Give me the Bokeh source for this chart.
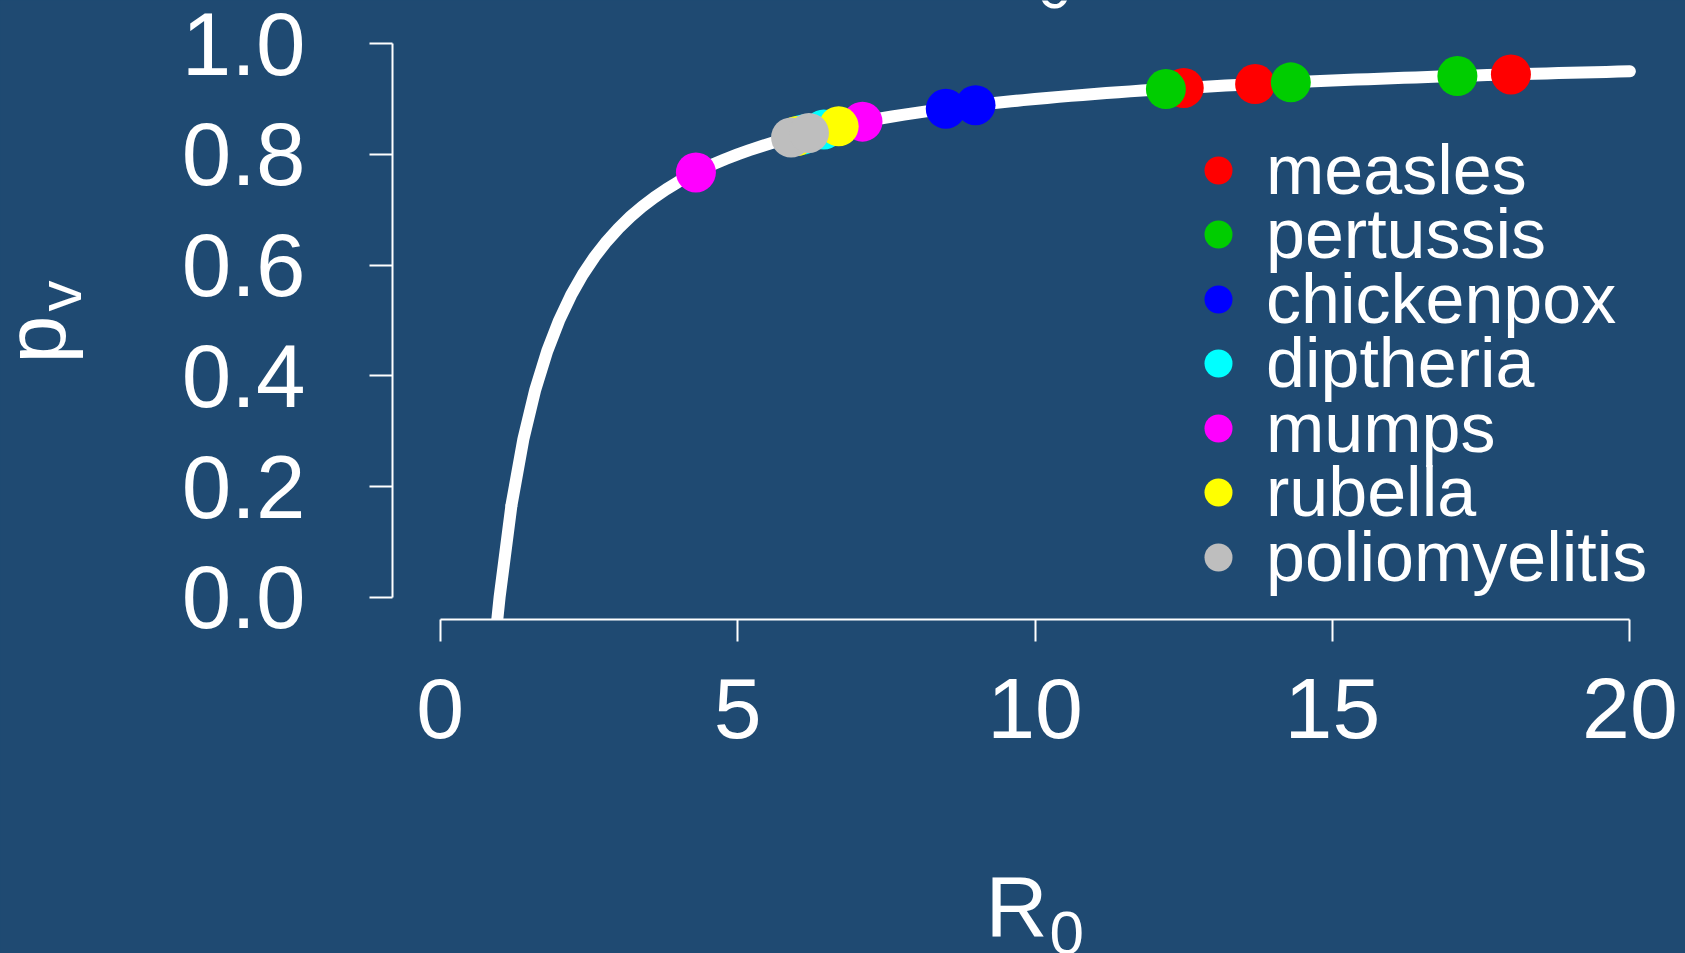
import numpy as np
from bokeh.plotting import figure
from bokeh.models import (Range1d, FixedTicker, PrintfTickFormatter, Legend,
                          LegendItem, Label, LinearAxis)
from bokeh.embed import file_html
from bokeh.resources import INLINE

# ---------------- data ----------------
diseases = ["measles", "pertussis", "chickenpox", "diptheria",
            "mumps", "rubella", "poliomyelitis"]
colors = ["#FF0000", "#00CD00", "#0000FF", "#00FFFF",
          "#FF00FF", "#FFFF00", "#BEBEBE"]
r0_measles = [12.5, 13.7, 18.0]
r0_pertussis = [12.2, 14.3, 17.1]
r0_chickenpox = [8.5, 9.0]
r0_diptheria = [6.1, 6.45]
r0_mumps = [4.3, 7.1]
r0_rubella = [6.0, 6.7]
r0_poliomyelitis = [5.9, 6.2]
r0_values = [r0_measles, r0_pertussis, r0_chickenpox, r0_diptheria,
             r0_mumps, r0_rubella, r0_poliomyelitis]

x_ticks = [0, 5, 10, 15, 20]
y_ticks = [0.0, 0.2, 0.4, 0.6, 0.8, 1.0]
x_lim = (-0.8, 20.8)     # plot region (R style, 4% padding)
y_lim = (-0.04, 1.04)

# theoretical threshold curve p_v = 1 - 1/R0, sampled every 0.2
r0_curve = np.linspace(0.2, 20, 100)
pv_curve = 1 - 1 / r0_curve

# ---------------- layout / style ----------------
BG = "#1F4A72"
FONT = "Liberation Sans"
W, H = 1685, 953
RL, RR, RT, RB = 392, 1677, 21, 619   # plot region in canvas px

ppx = (RR - RL) / (x_lim[1] - x_lim[0])
ppy = (RB - RT) / (y_lim[1] - y_lim[0])
x_range = Range1d(x_lim[0] - RL / ppx, x_lim[1] + (W - RR) / ppx)
y_range = Range1d(y_lim[0] - (H - RB) / ppy, y_lim[1] + RT / ppy)

p = figure(width=W, height=H, output_backend="svg", toolbar_location=None,
           x_range=x_range, y_range=y_range,
           x_axis_location=None, y_axis_location=None,
           min_border=0, min_border_left=0, min_border_right=0,
           min_border_top=0, min_border_bottom=0,
           background_fill_color=BG, border_fill_color=BG,
           outline_line_color=None)
p.styles = {"background-color": BG}
p.grid.visible = False

xaxis = LinearAxis(fixed_location=y_lim[0])
yaxis = LinearAxis(fixed_location=x_lim[0])
p.add_layout(xaxis, "below")
p.add_layout(yaxis, "left")

for ax, ticks, bounds, size in ((xaxis, x_ticks, (0, 20), "86px"),
                                (yaxis, y_ticks, (0, 1), "89px")):
    ax.ticker = FixedTicker(ticks=ticks)
    ax.bounds = bounds
    ax.axis_line_color = "white"
    ax.axis_line_width = 2
    ax.major_tick_line_color = "white"
    ax.major_tick_line_width = 2
    ax.major_tick_in = 0
    ax.minor_tick_line_color = None
    ax.major_label_text_color = "white"
    ax.major_label_text_font = FONT
    ax.major_label_text_font_size = size

xaxis.major_tick_out = 22
xaxis.major_label_standoff = 37
yaxis.major_tick_out = 23
yaxis.major_label_standoff = 64
yaxis.formatter = PrintfTickFormatter(format="%.1f")

# curve (clipped at the bottom of the plot region like R does)
r0_lo = 1 / (1 - y_lim[0])
keep = r0_curve >= 1.2
low = np.r_[r0_lo, r0_curve[(r0_curve >= 1.0) & (r0_curve <= 1.2)]]
p.line(low, 1 - 1 / low, line_color="white", line_width=12,
       line_cap="butt", line_join="round")
p.line(r0_curve[keep], pv_curve[keep], line_color="white", line_width=12,
       line_cap="round", line_join="round")

# disease points + legend (one legend box per row)
row0, pitch = 169.8, 64.5
for i, (name, col, vals) in enumerate(zip(diseases, colors, r0_values)):
    xs = np.array(vals, dtype=float)
    r = p.scatter(xs, 1 - 1 / xs, size=40, fill_color=col, line_color=None)
    cy = row0 + pitch * i
    lg = Legend(items=[LegendItem(label=name, renderers=[r])],
                location=(1183, H - (cy + 45)),
                label_text_font=FONT, label_text_font_size="70px",
                label_text_color="white", glyph_width=70, glyph_height=90,
                label_standoff=13, spacing=0, padding=0, margin=0,
                border_line_alpha=0, background_fill_alpha=0)
    p.add_layout(lg)

# axis titles (canvas px from the top-left; Label y counts up from bottom)


def lab(text, cx, cy, size, **kw):
    p.add_layout(Label(x=cx, y=H - cy, x_units="screen", y_units="screen",
                       text=text, text_font=FONT, text_font_size=size,
                       text_color="white", text_baseline="middle", **kw))


lab("R", 985, 935 - 0.3465 * 86, "86px", text_align="left")
lab("0", 1049, 954 - 0.3465 * 62, "62px", text_align="left")
lab("p", 64 - 0.3465 * 86, 363, "86px", angle=np.pi / 2, text_align="left")
lab("v", 80 - 0.3465 * 62, 311, "62px", angle=np.pi / 2, text_align="left")
# bottom of a title subscript peeking in at the top edge
lab("0", 1054, 8 - 0.3465 * 62, "62px", text_align="center")

html = file_html(p, INLINE)
html = html.replace("<body>", '<body style="margin:0;background:%s">' % BG)
open("out.html", "w").write(html)
